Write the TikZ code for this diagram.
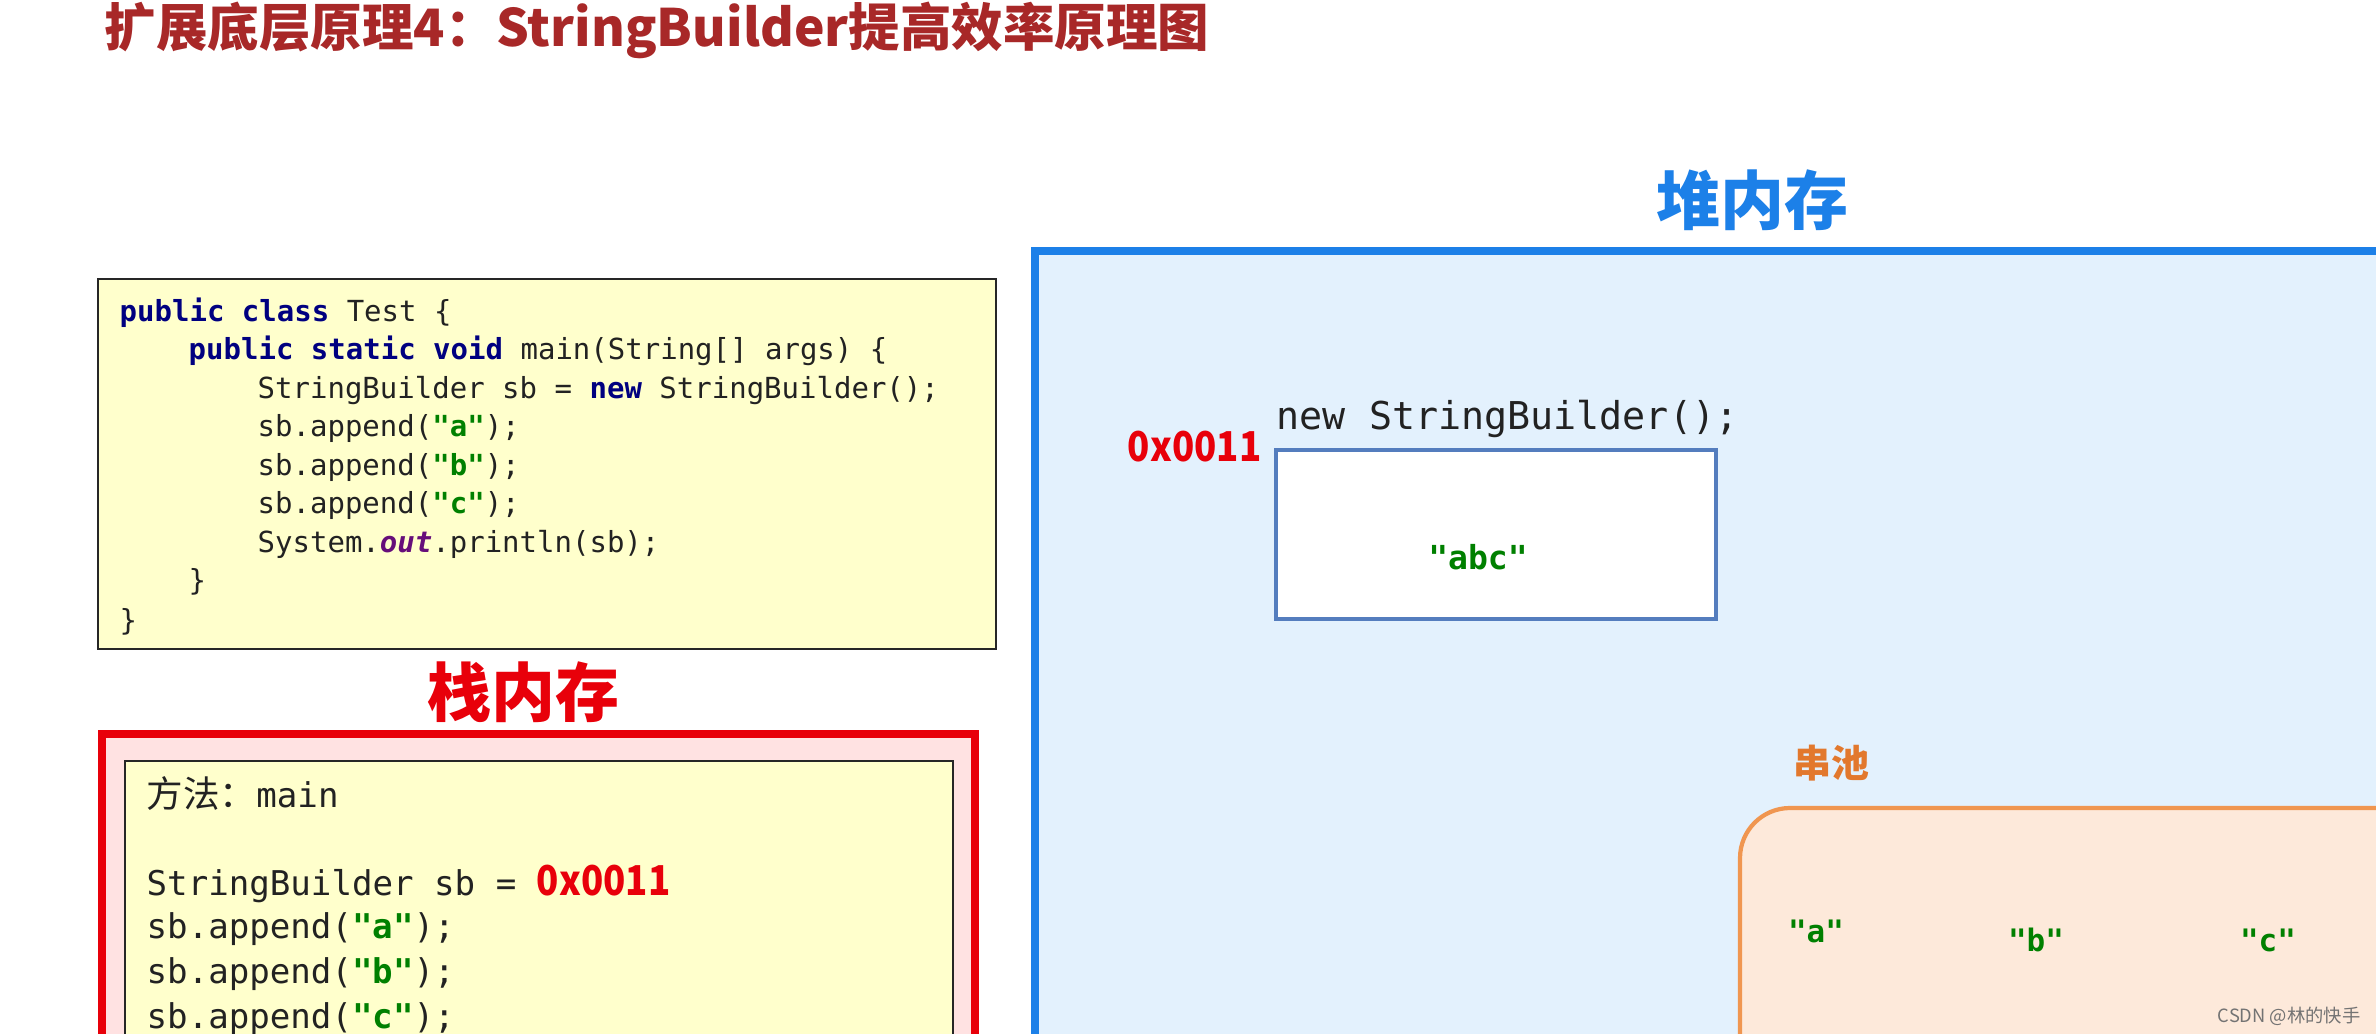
\documentclass[tikz,border=0pt]{standalone}
\usepackage{fontspec}
\usepackage{xcolor}
\usepackage{graphicx}
\usepackage{tikz}
\setmainfont{Noto Sans CJK SC}
\newfontfamily\cjk{Noto Sans CJK SC}
\newfontfamily\codefont{DejaVu Sans Mono}

\definecolor{titlered}{RGB}{168,40,40}
\definecolor{stackred}{RGB}{232,0,10}
\definecolor{stackfill}{RGB}{255,226,226}
\definecolor{codefill}{RGB}{255,255,204}
\definecolor{heapblue}{RGB}{28,128,232}
\definecolor{heapfill}{RGB}{227,241,253}
\definecolor{objblue}{RGB}{84,125,190}
\definecolor{poolorange}{RGB}{240,150,80}
\definecolor{poolfill}{RGB}{253,233,218}
\definecolor{poolword}{RGB}{226,120,45}
\definecolor{strgreen}{RGB}{0,128,0}
\definecolor{kwnavy}{RGB}{0,0,128}
\definecolor{outpurple}{RGB}{102,14,122}
\definecolor{codegray}{RGB}{34,34,34}

\newcommand{\kwd}[1]{{\bfseries\color{kwnavy}#1}}
\newcommand{\strlit}[1]{{\bfseries\color{strgreen}#1}}
\newcommand{\addr}[1]{\scalebox{0.89}[1]{\cjk\bfseries\fontsize{11.7}{13}\selectfont\color{stackred}#1}}

\begin{document}
\begin{tikzpicture}[x=0.01cm, y=-0.01cm,
    code/.style={anchor=base west, inner sep=0pt, text=codegray,
      font=\codefont\fontsize{8.25}{10}\selectfont},
    frame/.style={anchor=base west, inner sep=0pt, text=codegray,
      font=\codefont\fontsize{9.7}{11}\selectfont},
    memlabel/.style={inner sep=0pt, font=\cjk\bfseries\fontsize{18.2}{20}\selectfont},
    codebox/.style={draw=black!85, line width=0.8pt, fill=codefill},
    literal/.style={inner sep=0pt, text=strgreen,
      font=\codefont\bfseries\fontsize{9.4}{11}\selectfont}]
    \useasboundingbox (0,0) rectangle (2376,1034);
    \clip (0,0) rectangle (2376,1034);
    \fill[white] (0,0) rectangle (2376,1034);

    \node[anchor=base west, inner sep=0pt, text=titlered,
      font=\cjk\bfseries\fontsize{14.65}{17}\selectfont] (title) at (104,47)
      {扩展底层原理4：StringBuilder提高效率原理图};

    % source code
    \draw[codebox] (98,279) rectangle (996,649);
    \foreach \x/\y/\t [count=\i] in {
        119/322/{\kwd{public} \kwd{class} Test \{},
        188/360/{\kwd{public} \kwd{static} \kwd{void} main(String[] args) \{},
        257/399/{StringBuilder sb = \kwd{new} StringBuilder();},
        257/437/{sb.append(\strlit{"a"});},
        257/476/{sb.append(\strlit{"b"});},
        257/514/{sb.append(\strlit{"c"});},
        257/553/{System.{\bfseries\itshape\color{outpurple}out}.println(sb);},
        188/591/{\}},
        119/630/{\}}}
      \node[code] (src\i) at (\x,\y) {\t};

    % stack
    \node[memlabel, text=stackred] (stacklabel) at (523,692) {栈内存};
    \draw[draw=stackred, line width=2.3pt, fill=stackfill] (102,734) rectangle (975,1100);
    \draw[codebox, line width=0.7pt] (125,761) rectangle (953,1100);
    \node[frame] (method) at (146,807) {{\cjk\fontsize{10.4}{12}\selectfont 方法：}main};
    \foreach \y/\t [count=\i] in {
        895/{StringBuilder sb = \addr{0x0011}},
        938/{sb.append(\strlit{"a"});},
        983/{sb.append(\strlit{"b"});},
        1028/{sb.append(\strlit{"c"});}}
      \node[frame] (frame\i) at (146,\y) {\t};

    % heap
    \node[memlabel, text=heapblue] (heaplabel) at (1752,200) {堆内存};
    \draw[draw=heapblue, line width=2.1pt, fill=heapfill] (1035,251) rectangle (2450,1100);
    \node[anchor=base west, inner sep=0pt, text=codegray,
      font=\codefont\fontsize{10.9}{12}\selectfont] (newsb) at (1276,430) {new StringBuilder();};
    \node[anchor=base east, inner sep=0pt] (heapaddr) at (1262,462) {\addr{0x0011}};
    \draw[draw=objblue, line width=1.3pt, fill=white] (1276,450) rectangle (1716,619);
    \node[literal] (abc) at (1478,557) {"abc"};

    % string pool
    \node[anchor=west, inner sep=0pt, text=poolword,
      font=\cjk\bfseries\fontsize{10.8}{12}\selectfont] (poollabel) at (1793,763) {串池};
    \draw[draw=poolorange, line width=1.2pt, fill=poolfill, rounded corners=0.5cm]
      (1740,808) rectangle (2500,1200);
    \node[literal, font=\codefont\bfseries\fontsize{8.8}{10}\selectfont] (poola) at (1816,931) {"a"};
    \node[literal, font=\codefont\bfseries\fontsize{8.8}{10}\selectfont] (poolb) at (2036,940) {"b"};
    \node[literal, font=\codefont\bfseries\fontsize{8.8}{10}\selectfont] (poolc) at (2268,940) {"c"};

    \node[anchor=east, inner sep=0pt, text=black!55,
      font=\cjk\fontsize{5.2}{6}\selectfont] (mark) at (2361,1016) {CSDN @林的快手};
\end{tikzpicture}
\end{document}
